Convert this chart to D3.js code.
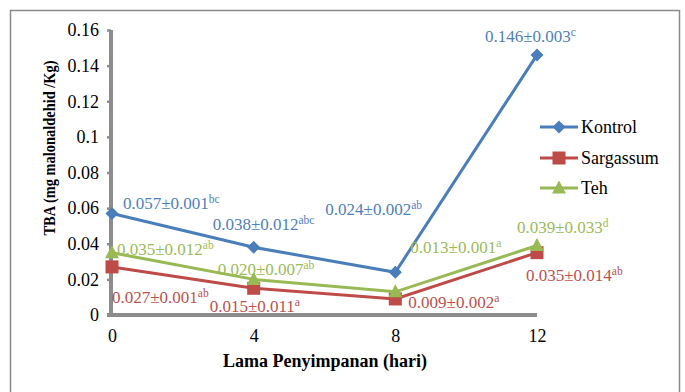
<!DOCTYPE html>
<html>
<head>
<meta charset="utf-8">
<script src="https://cdn.jsdelivr.net/npm/d3@7"></script>
<style>
html,body{margin:0;padding:0;background:#fff;}
</style>
</head>
<body>
<svg id="chart" width="685" height="392"></svg>
<script>
// ---- data ----
const days = [0, 4, 8, 12];
const seriesNames = ["Kontrol", "Sargassum", "Teh"];
const kontrol   = [0.057, 0.038, 0.024, 0.146];
const sargassum = [0.027, 0.015, 0.009, 0.035];
const teh       = [0.035, 0.020, 0.013, 0.039];
const kontrolSD   = ["0.001", "0.012", "0.002", "0.003"];
const sargassumSD = ["0.001", "0.011", "0.002", "0.014"];
const tehSD       = ["0.012", "0.007", "0.001", "0.033"];
const kontrolSig   = ["bc", "abc", "ab", "c"];
const sargassumSig = ["ab", "a", "a", "ab"];
const tehSig       = ["ab", "ab", "a", "d"];
const yTicks = [0, 0.02, 0.04, 0.06, 0.08, 0.1, 0.12, 0.14, 0.16];
const xTicks = [0, 4, 8, 12];

// ---- layout / style ----
const FONT = "Liberation Serif";
const colors = {Kontrol:"#4A7EBB", Sargassum:"#BE4B48", Teh:"#98B954"};
const textColors = {Kontrol:"#4F81BD", Sargassum:"#C0504D", Teh:"#9BBB59"};
const labelOffsets = {
  Kontrol:   [[11,-4.5],[-41,-17],[-70,-57],[-52,-13]],
  Sargassum: [[0,36],[-44,24],[13,9],[-11,28]],
  Teh:       [[5,2],[-36,-4],[15,-39],[-20,-12.5]]
};

const svg = d3.select("#chart").attr("font-family", FONT);
svg.append("rect").attr("x",10.5).attr("y",10.5).attr("width",669).attr("height",420)
  .attr("fill","none").attr("stroke","#8a8a8a").attr("stroke-width",1.5);

const x = d3.scaleLinear().domain([0,12]).range([112,537]);
const y = d3.scaleLinear().domain([0,0.16]).range([315,30]);

// y axis
const yAxis = d3.axisLeft(y).tickValues(yTicks).tickFormat(d=>String(+d.toFixed(2))).tickSize(4).tickPadding(8);
const gy = svg.append("g").attr("transform","translate(111,0)").call(yAxis).attr("font-family", FONT);
gy.select(".domain").attr("stroke","#8c8c8c").attr("stroke-width",4).attr("d","M0,30V317");
gy.selectAll(".tick line").attr("stroke","#8c8c8c").attr("stroke-width",2.5);
gy.selectAll(".tick text").attr("font-size",18).attr("fill","#000").attr("font-family",FONT).attr("dy","0.32em");

// x axis
const xAxis = d3.axisBottom(x).tickValues(xTicks).tickSize(0).tickPadding(14);
const gx = svg.append("g").attr("transform","translate(0,315)").call(xAxis).attr("font-family", FONT);
gx.select(".domain").attr("stroke","#8c8c8c").attr("stroke-width",4).attr("d","M107,0H537");
gx.selectAll(".tick text").attr("font-size",18).attr("fill","#000").attr("font-family",FONT).attr("dy","0.71em");

// titles
svg.append("text").attr("x",325).attr("y",367).attr("text-anchor","middle").attr("font-family",FONT)
  .attr("font-size",18).attr("font-weight","bold").text("Lama Penyimpanan (hari)");
svg.append("text").attr("transform","translate(55,148) rotate(-90)").attr("text-anchor","middle").attr("font-family",FONT)
  .attr("font-size",17).attr("font-weight","bold")
  .attr("textLength",175).attr("lengthAdjust","spacingAndGlyphs")
  .text("TBA (mg malonaldehid /Kg)");

const dataMap = {
  Kontrol:{v:kontrol, sd:kontrolSD, sig:kontrolSig},
  Sargassum:{v:sargassum, sd:sargassumSD, sig:sargassumSig},
  Teh:{v:teh, sd:tehSD, sig:tehSig}
};

const line = d3.line().x((d,i)=>x(days[i])).y(d=>y(d));

function marker(g, name, cx, cy){
  const c = colors[name];
  if(name==="Kontrol"){
    g.append("path").attr("d",`M${cx},${cy-6.5}L${cx+6.5},${cy}L${cx},${cy+6.5}L${cx-6.5},${cy}Z`).attr("fill",c);
  } else if(name==="Sargassum"){
    g.append("rect").attr("x",cx-6.5).attr("y",cy-6.5).attr("width",13).attr("height",13).attr("fill",c);
  } else {
    g.append("path").attr("d",`M${cx},${cy-7.5}L${cx+7},${cy+5.5}L${cx-7},${cy+5.5}Z`).attr("fill",c);
  }
}

seriesNames.forEach(name=>{
  const s = dataMap[name];
  const g = svg.append("g");
  g.append("path").datum(s.v).attr("d",line).attr("fill","none")
    .attr("stroke",colors[name]).attr("stroke-width",3);
  s.v.forEach((v,i)=>marker(g,name,x(days[i]),y(v)));
});

// data labels
seriesNames.forEach(name=>{
  const s = dataMap[name];
  s.v.forEach((v,i)=>{
    const [dx,dy] = labelOffsets[name][i];
    const t = svg.append("text").attr("x",x(days[i])+dx).attr("y",y(v)+dy).attr("font-family",FONT)
      .attr("font-size",17).attr("fill",textColors[name]);
    t.append("tspan").text(v.toFixed(3)+"±"+s.sd[i]);
    t.append("tspan").attr("font-size",11.5).attr("dy",-6).text(s.sig[i]);
  });
});

// legend
const legendY = [127,158,188];
seriesNames.forEach((name,i)=>{
  const g = svg.append("g");
  g.append("line").attr("x1",540).attr("x2",578).attr("y1",legendY[i]).attr("y2",legendY[i])
    .attr("stroke",colors[name]).attr("stroke-width",3);
  marker(g,name,559,legendY[i]);
  g.append("text").attr("x",581).attr("y",legendY[i]).attr("dy","0.35em").attr("font-family",FONT)
    .attr("font-size",18).attr("fill","#000").text(name);
});
</script>
</body>
</html>
